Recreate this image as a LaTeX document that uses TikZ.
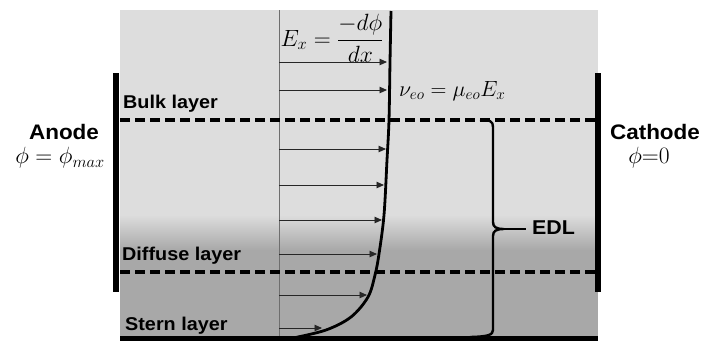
\RequirePackage{fix-cm}
\documentclass[tikz,border=0pt]{standalone}
\usepackage{amsmath}
\usepackage{fontspec}
\newfontfamily\lblfont[FakeStretch=1.07]{Liberation Sans}
\usetikzlibrary{arrows.meta}
\definecolor{bgtop}{RGB}{221,221,221}
\definecolor{bgbot}{RGB}{168,168,168}
\definecolor{thinline}{RGB}{110,110,110}
\tikzset{
  lbl/.style={font=\lblfont\bfseries\fontsize{18.5}{22}\selectfont, inner sep=0pt, anchor=west},
  bigl/.style={font=\lblfont\bfseries\fontsize{21}{24}\selectfont, inner sep=0pt},
  mth/.style={font=\fontsize{23.5}{27}\selectfont, inner sep=0pt},
  dashline/.style={line width=3.2pt, dash pattern=on 10pt off 5pt},
  bar/.style={line width=6pt},
  arr/.style={draw=black!85, line width=0.9pt, -{Triangle[length=7.5pt,width=6.5pt]}},
  profile/.style={line width=2.8pt},
  bracestyle/.style={line width=2.4pt, line join=round}
}
\begin{document}
\begin{tikzpicture}[x=1pt,y=-1pt]
\useasboundingbox (0,0) rectangle (701,341);
% background
\fill[bgtop] (120,10) rectangle (598,215);
\shade[top color=bgtop,bottom color=bgbot] (120,215) rectangle (598,250);
\fill[bgbot] (120,250) rectangle (598,341);
% thin axis
\draw[thinline, line width=0.8pt] (279,10) -- (279,338);
% arrows
\foreach \yy/\xx in {62/387, 90/387, 149/386, 185/384, 220/382, 254/377, 295/367, 328/322}
  \draw[arr] (279,\yy) -- (\xx,\yy);
% velocity profile
\draw[profile] plot[smooth,tension=0.55] coordinates {(391,11) (390,62) (389,120) (387,160) (384,215) (379,254) (375,275) (368,297) (351,317) (326,330) (293,338)};
% dashed lines
\draw[dashline] (120,120) -- (598,120);
\draw[dashline] (120,272) -- (598,272);
% electrodes
\draw[bar] (116,73) -- (116,292);
\draw[bar] (598,73) -- (598,292);
\draw[line width=5pt] (120,338.5) -- (598,338.5);
% brace
\coordinate (btop) at (480,120);
\coordinate (bbot) at (470,337);
\coordinate (btip) at (504,229);
\coordinate (bend) at (526,229);
\draw[bracestyle] (btop) .. controls (490,120) and (493,121) .. (493,127)
  -- (493,222) .. controls (493,227) and (496,229) .. (btip)
  .. controls (496,229) and (493,231) .. (493,236)
  -- (493,330) .. controls (493,335) and (488,336.5) .. (bbot);
\draw[line width=2.4pt] (btip) -- (bend);
% labels
\node[bigl] (anode) at (64,132) {Anode};
\node[mth] (anodephi) at (60,158) {$\phi = \phi_{max}$};
\node[bigl] (cathode) at (655,132) {Cathode};
\node[mth] (cathodephi) at (649,158) {$\phi{=}0$};
\node[lbl] (bulk) at (123,104) {Bulk layer};
\node[lbl] (diffuse) at (122,256) {Diffuse layer};
\node[lbl] (stern) at (125,326) {Stern layer};
\node[lbl, font=\lblfont\bfseries\fontsize{20}{24}\selectfont] (edl) at (532,228) {EDL};
\node[mth] (ex) at (332,38) {$E_x = \dfrac{-d\phi}{dx}$};
\node[mth, font=\fontsize{22}{26}\selectfont, anchor=west] (veo) at (399,91) {$\nu_{eo} = \mu_{eo}E_x$};
\end{tikzpicture}
\end{document}
